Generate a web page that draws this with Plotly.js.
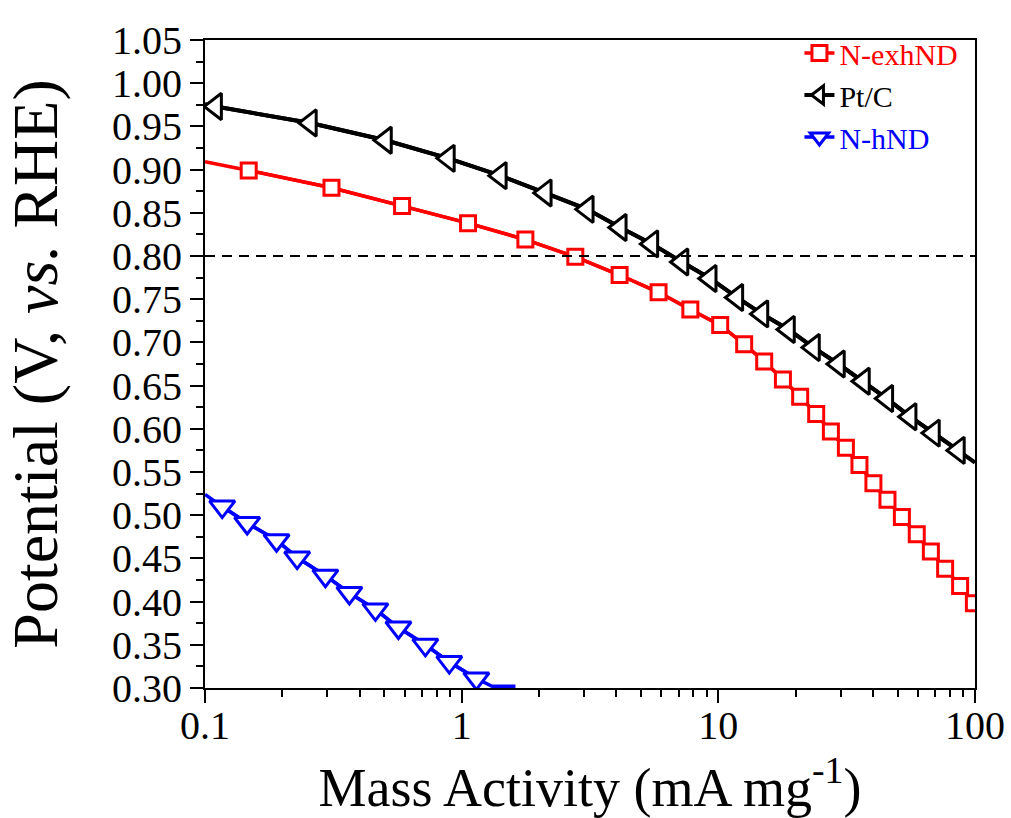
<!DOCTYPE html>
<html>
<head>
<meta charset="utf-8">
<script src="https://cdn.plot.ly/plotly-3.0.1.min.js"></script>
<style>html,body{margin:0;padding:0;background:#fff;}#chart{width:1011px;height:818px;}</style>
</head>
<body>
<div id="chart"></div>
<script>
// ---- data ----
const seriesNames = ["N-exhND", "Pt/C", "N-hND"];

// N-exhND (marker points)
const exhX = [0.148, 0.311, 0.586, 1.059, 1.771, 2.772, 4.124, 5.85, 7.78, 10.17, 12.61, 15.09, 17.85, 20.84, 24.06, 27.45, 31.4, 35.47, 40.2, 45.6, 51.9, 59.3, 67.3, 76.5, 87.5, 99.0];
const exhY = [0.899, 0.879, 0.858, 0.838, 0.819, 0.799, 0.778, 0.758, 0.738, 0.720, 0.698, 0.678, 0.657, 0.637, 0.617, 0.597, 0.578, 0.558, 0.537, 0.518, 0.498, 0.478, 0.458, 0.438, 0.418, 0.398];
// curve end points without markers
const exhLineStartX = [0.1];
const exhLineStartY = [0.909];
const exhLineEndX = [];
const exhLineEndY = [];

// Pt/C
const ptX = [0.110, 0.2575, 0.505, 0.888, 1.415, 2.118, 3.087, 4.15, 5.51, 7.22, 9.30, 11.81, 14.79, 18.77, 23.49, 29.38, 36.77, 45.35, 55.9, 68.9, 86.2];
const ptY = [0.973, 0.954, 0.934, 0.913, 0.893, 0.873, 0.854, 0.833, 0.814, 0.793, 0.774, 0.752, 0.733, 0.715, 0.694, 0.675, 0.655, 0.635, 0.614, 0.595, 0.575];
const ptLineStartX = [0.1];
const ptLineStartY = [0.976];
const ptLineEndX = [100];
const ptLineEndY = [0.561];

// N-hND
const hX = [0.1167, 0.146, 0.190, 0.2286, 0.2945, 0.3653, 0.4613, 0.567, 0.722, 0.895, 1.141];
const hY = [0.510, 0.491, 0.471, 0.451, 0.430, 0.410, 0.391, 0.370, 0.350, 0.330, 0.311];
const hLineStartX = [0.1];
const hLineStartY = [0.524];
const hLineEndX = [1.313, 1.62];
const hLineEndY = [0.302, 0.302];

// reference level
const refPotential = 0.80;

// axis settings
const xRangeLog = [-1, 2];
const yRange = [0.30, 1.05];
const yMajor = 0.05;
const yMinor = 0.025;

// ---- styling ----
const FONT = '"Liberation Serif", "Times New Roman", serif';
const colors = ["#ff0000", "#000000", "#0000ff"];
const symbols = ["square", "triangle-left", "triangle-down"];
const msizes = [15, 23, 22];
const lwidths = [3.5, 4, 3.5];

function makeTraces(i, sx, sy, ex, ey, mx, my) {
  const lineX = sx.concat(mx, ex);
  const lineY = sy.concat(my, ey);
  const line = {
    x: lineX, y: lineY, type: "scatter", mode: "lines",
    line: {color: colors[i], width: lwidths[i]},
    showlegend: false, hoverinfo: "skip"
  };
  const mk = {
    x: mx, y: my, type: "scatter", mode: "lines+markers",
    name: '<span style="color:' + colors[i] + '">' + seriesNames[i] + '</span>',
    line: {color: colors[i], width: lwidths[i]},
    marker: {symbol: symbols[i], size: msizes[i], color: "#ffffff",
             line: {color: colors[i], width: 3}}
  };
  return [line, mk];
}

const data = [].concat(
  makeTraces(0, exhLineStartX, exhLineStartY, exhLineEndX, exhLineEndY, exhX, exhY),
  makeTraces(1, ptLineStartX, ptLineStartY, ptLineEndX, ptLineEndY, ptX, ptY),
  makeTraces(2, hLineStartX, hLineStartY, hLineEndX, hLineEndY, hX, hY)
);

const layout = {
  width: 1011, height: 818,
  paper_bgcolor: "#ffffff", plot_bgcolor: "#ffffff",
  margin: {l: 205, r: 36, t: 40, b: 130},
  font: {family: FONT, color: "#000"},
  showlegend: true,
  legend: {
    x: 0.772, y: 1.02, xanchor: "left", yanchor: "top",
    bgcolor: "rgba(0,0,0,0)", borderwidth: 0,
    font: {family: FONT, size: 30, color: "#000"},
    tracegroupgap: 0, itemsizing: "trace"
  },
  xaxis: {
    type: "log", range: xRangeLog, dtick: 1,
    showgrid: false, zeroline: false,
    showline: true, linecolor: "#000", linewidth: 2, mirror: true,
    ticks: "outside", ticklen: 13, tickwidth: 2, tickcolor: "#000",
    minor: {dtick: "D1", ticks: "outside", ticklen: 7, tickwidth: 2, tickcolor: "#000", showgrid: false},
    tickfont: {family: FONT, size: 40, color: "#000"},
    ticklabelstandoff: -12,
    exponentformat: "none",
    title: {text: "Mass Activity (mA mg<sup>-1</sup>)", font: {family: FONT, size: 54, color: "#000"}, standoff: 24},
    automargin: false
  },
  yaxis: {
    range: yRange, tick0: 0.30, dtick: yMajor, tickformat: ".2f",
    showgrid: false, zeroline: false,
    showline: true, linecolor: "#000", linewidth: 2, mirror: true,
    ticks: "outside", ticklen: 13, tickwidth: 2, tickcolor: "#000",
    minor: {dtick: yMinor, ticks: "outside", ticklen: 7, tickwidth: 2, tickcolor: "#000", showgrid: false},
    tickfont: {family: FONT, size: 40, color: "#000"},
    title: {text: "Potential (V, <i>vs.</i> RHE)", font: {family: FONT, size: 64, color: "#000"}, standoff: 34},
    automargin: false
  },
  shapes: [{
    type: "line", xref: "paper", x0: 0, x1: 1, yref: "y", y0: refPotential, y1: refPotential,
    line: {color: "#000", width: 2, dash: "10px,7px"}, layer: "above"
  }]
};

Plotly.newPlot("chart", data, layout, {displayModeBar: false, staticPlot: true});
</script>
</body>
</html>
